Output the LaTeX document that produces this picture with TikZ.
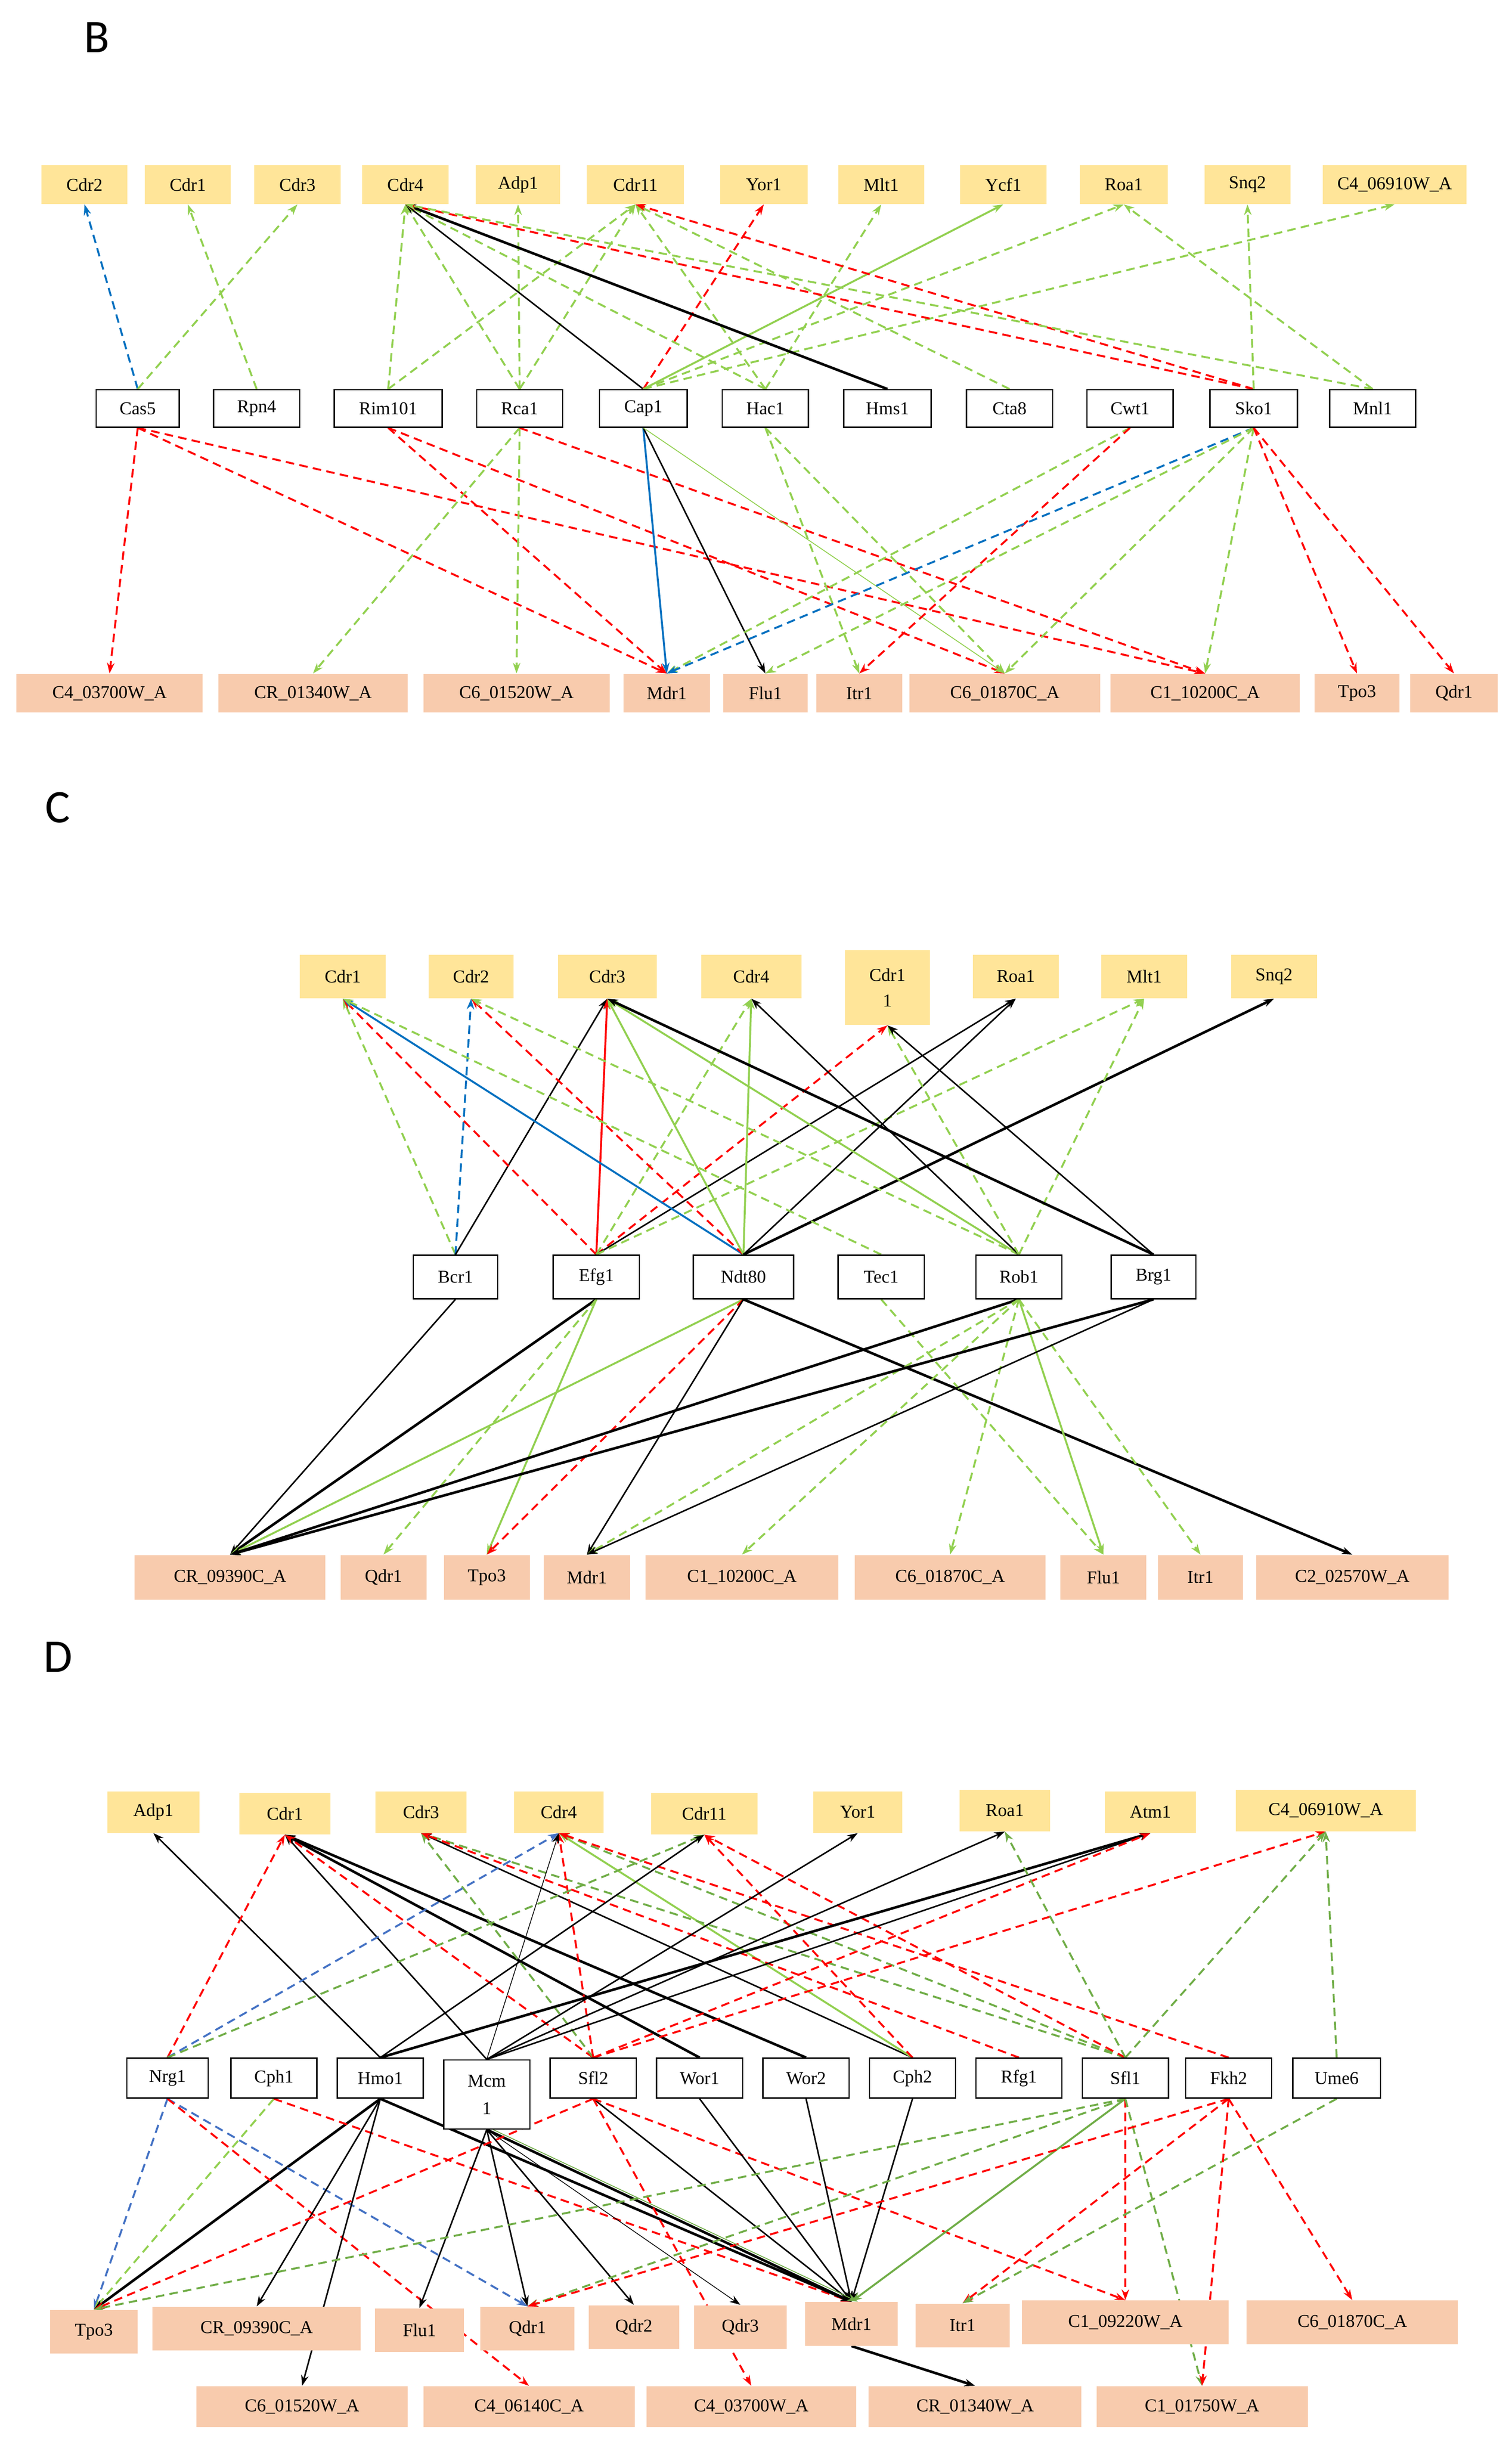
\documentclass[tikz,border=0pt]{standalone}
\usepackage{fontspec}
\setmainfont{Liberation Serif}
\newfontfamily\panelfont{Carlito}
\usetikzlibrary{arrows.meta,backgrounds}
\definecolor{topgene}{RGB}{255,229,153}
\definecolor{botgene}{RGB}{248,203,173}
\definecolor{lgreen}{RGB}{146,208,80}
\definecolor{dgreen}{RGB}{112,173,71}
\definecolor{myblue}{RGB}{0,112,192}
\definecolor{lblue}{RGB}{68,114,196}
\tikzset{
  gene/.style={inner sep=0pt,minimum height=0.64cm,font=\fontsize{8.5}{10}\selectfont,align=center},
  up/.style={gene,fill=topgene},
  down/.style={gene,fill=botgene},
  tf/.style={gene,draw=black,fill=white,line width=0.6pt,minimum height=0.62cm},
  panel/.style={font=\panelfont\fontsize{22}{24}\selectfont},
  e/.style={-{Stealth[length=5pt,width=3.5pt]}},
  dsh/.style={dash pattern=on 4pt off 2.5pt},
  gd/.style={e,dsh,lgreen,line width=0.9pt},
  gd2/.style={e,dsh,dgreen,line width=0.9pt},
  gs/.style={e,lgreen,line width=0.9pt},
  gs2/.style={e,dgreen,line width=0.9pt},
  gt/.style={e,lgreen,line width=0.4pt},
  rd/.style={e,dsh,red,line width=0.9pt},
  rs/.style={e,red,line width=0.9pt},
  bd/.style={e,dsh,myblue,line width=0.9pt},
  bd2/.style={e,dsh,lblue,line width=0.9pt},
  bs/.style={e,myblue,line width=0.9pt},
  k/.style={e,black,line width=0.7pt},
  kt/.style={e,black,line width=0.35pt},
  kk/.style={e,black,line width=1.2pt}
}
\begin{document}
\begin{tikzpicture}[x=0.02588cm,y=-0.02588cm]
\useasboundingbox (0,0) rectangle (966,1560.5);
% panel B
\node[panel] (labB) at (62,24) {B};
\foreach \n/\x/\w/\t in {Cdr2/54/55/Cdr2,Cdr1/120/55/Cdr1,Cdr3/190/55/Cdr3,Cdr4/259/55/Cdr4,Adp1/331/54/Adp1,Cdr11/406/62/Cdr11,Yor1/488/56/Yor1,Mlt1/563/55/Mlt1,Ycf1/641/55/Ycf1,Roa1/718/56/Roa1,Snq2/797/55/Snq2,C4z/891/92/C4\_06910W\_A}
  \node[up,minimum width=\w*0.02588cm] (b\n) at (\x,118) {\t};
\foreach \n/\x/\w in {Cas5/88/53,Rpn4/164/55,Rim101/248/69,Rca1/332/55,Cap1/411/56,Hac1/489/55,Hms1/567/56,Cta8/645/55,Cwt1/722/55,Sko1/801/56,Mnl1/877/55}
  \node[tf,minimum width=\w*0.02588cm] (b\n) at (\x,261) {\n};
\foreach \n/\x/\w/\t in {C4c/70/119/C4\_03700W\_A,CRa/200/121/CR\_01340W\_A,C6a/330/119/C6\_01520W\_A,Mdr1/426/55/Mdr1,Flu1/489/54/Flu1,Itr1/549/55/Itr1,C6e/642/122/C6\_01870C\_A,C1k/770/121/C1\_10200C\_A,Tpo3/867/54/Tpo3,Qdr1/929/56/Qdr1}
  \node[down,minimum width=\w*0.02588cm] (b\n) at (\x,443) {\t};
% panel C
\node[panel] (labC) at (37,516) {C};
\foreach \n/\x/\w/\t in {Cdr1/219/55/Cdr1,Cdr2/301/54/Cdr2,Cdr3/388/63/Cdr3,Cdr4/480/64/Cdr4,Roa1/649/55/Roa1,Mlt1/731/55/Mlt1,Snq2/814/55/Snq2}
  \node[up,minimum width=\w*0.02588cm,minimum height=0.72cm] (c\n) at (\x,624) {\t};
\node[up,minimum width=54*0.02588cm,minimum height=1.24cm] (cCdr11) at (567,631) {Cdr1\\[2pt]1};
\foreach \n/\x/\w in {Bcr1/291/54,Efg1/381/55,Ndt80/475/64,Tec1/563/55,Rob1/651/55,Brg1/737/54}
  \node[tf,minimum width=\w*0.02588cm,minimum height=0.72cm] (c\n) at (\x,816) {\n};
\foreach \n/\x/\w/\t in {CR9/147/122/CR\_09390C\_A,Qdr1/245/55/Qdr1,Tpo3/311/55/Tpo3,Mdr1/375/55/Mdr1,C1k/474/123/C1\_10200C\_A,C6e/607/122/C6\_01870C\_A,Flu1/705/55/Flu1,Itr1/767/54/Itr1,C2/864/123/C2\_02570W\_A}
  \node[down,minimum width=\w*0.02588cm,minimum height=0.74cm] (c\n) at (\x,1008) {\t};
% panel D
\node[panel] (labD) at (37,1059) {D};
\foreach \n/\x/\y/\w/\t in {Adp1/98/1158/59/Adp1,Cdr1/182/1159/58/Cdr1,Cdr3/269/1158/58/Cdr3,Cdr4/357/1158/57/Cdr4,Cdr11/450/1159/68/Cdr11,Yor1/548/1158/57/Yor1,Roa1/642/1157/58/Roa1,Atm1/735/1158/58/Atm1,C4z/847/1157/115/C4\_06910W\_A}
  \node[up,minimum width=\w*0.02588cm,minimum height=0.68cm] (d\n) at (\x,\y) {\t};
\foreach \n/\x/\w in {Nrg1/107/52,Cph1/175/55,Hmo1/243/55,Sfl2/379/55,Wor1/447/55,Wor2/515/55,Cph2/583/55,Rfg1/651/55,Sfl1/719/55,Fkh2/785/55,Ume6/854/56}
  \node[tf,minimum width=\w*0.02588cm,minimum height=0.66cm] (d\n) at (\x,1328) {\n};
\node[tf,minimum width=55*0.02588cm,minimum height=1.14cm,anchor=north] (dMcm1) at (311,1316) {Mcm\\[3pt]1};
\foreach \n/\x/\y/\w/\t in {Tpo3/60/1490/56/Tpo3,CR9/164/1488/133/CR\_09390C\_A,Flu1/268/1489/57/Flu1,Qdr1/337/1488/60/Qdr1,Qdr2/405/1487/58/Qdr2,Qdr3/473/1487/59/Qdr3,Mdr1/544/1485/59/Mdr1,Itr1/615/1486/60/Itr1,C1n/719/1484/132/C1\_09220W\_A,C6e/864/1484/135/C6\_01870C\_A}
  \node[down,minimum width=\w*0.02588cm,minimum height=0.72cm] (d\n) at (\x,\y) {\t};
\foreach \n/\x/\w/\t in {C6a/193/135/C6\_01520W\_A,C4f/338/135/C4\_06140C\_A,C4c/480/134/C4\_03700W\_A,CR1/623/136/CR\_01340W\_A,C1s/768/135/C1\_01750W\_A}
  \node[down,minimum width=\w*0.02588cm,minimum height=0.68cm] (d\n) at (\x,1538) {\t};
\begin{scope}[on background layer]
% regulators to upper genes
\foreach \s/\t/\st in {bCas5/bCdr2/bd,bRpn4/bCdr1/gd,bCas5/bCdr3/gd,bRim101/bCdr4/gd,bRim101/bCdr11/gd,bRca1/bCdr4/gd,bRca1/bAdp1/gd,bRca1/bCdr11/gd,bCap1/bCdr4/k,bCap1/bYor1/rd,bCap1/bYcf1/gs,bCap1/bRoa1/gd,bCap1/bC4z/gd,bHac1/bCdr4/gd,bHac1/bCdr11/gd,bHac1/bMlt1/gd,bHms1/bCdr4/kk,bCta8/bCdr11/gd,bSko1/bCdr4/rd,bSko1/bCdr11/rd,bSko1/bSnq2/gd,bMnl1/bRoa1/gd,bMnl1/bCdr4/gd,
  cBcr1/cCdr1/gd,cBcr1/cCdr2/bd,cBcr1/cCdr3/k,cEfg1/cCdr1/rd,cEfg1/cCdr3/rs,cEfg1/cCdr11/rd,cEfg1/cCdr4/gd,cEfg1/cRoa1/k,cEfg1/cMlt1/gd,cNdt80/cCdr1/bs,cNdt80/cCdr2/rd,cNdt80/cCdr3/gs,cNdt80/cCdr4/gs,cNdt80/cRoa1/k,cNdt80/cSnq2/kk,cTec1/cCdr1/gd,cRob1/cCdr2/gd,cRob1/cCdr3/gs,cRob1/cCdr4/k,cRob1/cCdr11/gd,cRob1/cMlt1/gd,cBrg1/cCdr3/kk,cBrg1/cCdr11/k,
  dHmo1/dAdp1/k,dNrg1/dCdr1/rd,dMcm1/dCdr1/k,dWor1/dCdr1/kk,dWor2/dCdr1/kk,dSfl2/dCdr1/rd,dCph2/dCdr3/k,dCph2/dCdr4/gs,dSfl2/dCdr3/gd2,dSfl1/dCdr3/gd2,dSfl1/dCdr4/gd2,dRfg1/dCdr3/rd,dSfl2/dCdr4/rd,dFkh2/dCdr4/rd,dCph2/dCdr11/rd,dSfl1/dCdr11/rd,dNrg1/dCdr4/bd2,dNrg1/dCdr11/gd2,dMcm1/dCdr4/kt,dHmo1/dCdr11/k,dMcm1/dYor1/k,dMcm1/dRoa1/k,dHmo1/dAtm1/kk,dMcm1/dAtm1/k,dSfl2/dAtm1/rd,dSfl2/dC4z/rd,dSfl1/dRoa1/gd2,dUme6/dC4z/gd2,dSfl1/dC4z/gd2}
  \draw[\st] (\s.north) -- (\t.south);
% regulators to lower genes
\foreach \s/\t/\st in {bCas5/bC4c/rd,bCas5/bMdr1/rd,bCas5/bC1k/rd,bRim101/bMdr1/rd,bRim101/bC6e/rd,bRca1/bCRa/gd,bRca1/bC6a/gd,bRca1/bC1k/rd,bCap1/bMdr1/bs,bCap1/bFlu1/k,bCap1/bC6e/gt,bHac1/bItr1/gd,bHac1/bC6e/gd,bCwt1/bMdr1/gd,bCwt1/bItr1/rd,bSko1/bMdr1/bd,bSko1/bFlu1/gd,bSko1/bC6e/gd,bSko1/bC1k/gd,bSko1/bTpo3/rd,bSko1/bQdr1/rd,
  cBcr1/cCR9/k,cEfg1/cCR9/kk,cEfg1/cTpo3/gs,cEfg1/cQdr1/gd,cNdt80/cCR9/gs,cNdt80/cTpo3/rd,cNdt80/cMdr1/k,cNdt80/cC2/kk,cTec1/cFlu1/gd,cRob1/cCR9/kk,cRob1/cMdr1/gd,cRob1/cC1k/gd,cRob1/cC6e/gd,cRob1/cFlu1/gs,cRob1/cItr1/gd,cBrg1/cCR9/kk,cBrg1/cMdr1/k,
  dNrg1/dTpo3/bd2,dCph1/dTpo3/gd,dHmo1/dTpo3/kk,dNrg1/dQdr1/bd2,dNrg1/dC4f/rd,dCph1/dMdr1/rd,dHmo1/dCR9/k,dHmo1/dC6a/k,dHmo1/dMdr1/kk,dMcm1/dFlu1/k,dMcm1/dQdr1/k,dMcm1/dQdr2/k,dMcm1/dQdr3/kt,dMcm1/dMdr1/kk,dSfl2/dTpo3/rd,dSfl2/dMdr1/k,dSfl2/dC4c/rd,dSfl2/dC1n/rd,dWor1/dMdr1/k,dWor2/dMdr1/k,dCph2/dMdr1/k,dSfl1/dTpo3/gd2,dSfl1/dQdr1/gd2,dSfl1/dMdr1/gs2,dSfl1/dC1n/rd,dSfl1/dC1s/gd2,dFkh2/dQdr1/rd,dFkh2/dItr1/rd,dFkh2/dC6e/rd,dUme6/dItr1/gd2,dFkh2/dC1s/rd,dMdr1/dCR1/kk}
  \draw[\st] (\s.south) -- (\t.north);
\draw[gt,dgreen] ([xshift=3pt]dMcm1.south) -- ([xshift=3pt]dMdr1.north);
\end{scope}
\end{tikzpicture}
\end{document}
